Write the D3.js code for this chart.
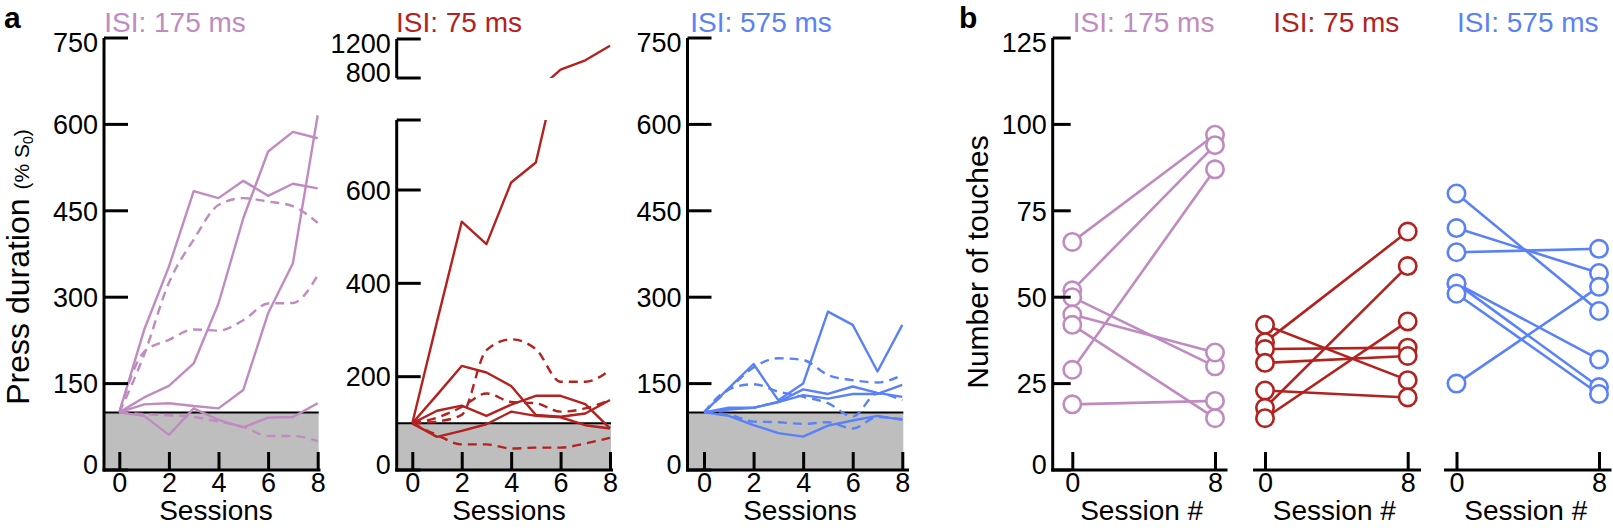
<!DOCTYPE html>
<html><head><meta charset="utf-8">
<script src="https://cdn.jsdelivr.net/npm/d3@7"></script>
<style>
html,body{margin:0;padding:0;background:#fff;}
svg{display:block;font-family:"Liberation Sans",Arial,Helvetica,sans-serif;}
</style></head><body>
<svg id="chart" width="1613" height="530"></svg>
<script>
// ---------------- DATA ----------------
const sessions = [0,1,2,3,4,5,6,7,8];
const groupNames = ["ISI: 175 ms","ISI: 75 ms","ISI: 575 ms"];
const groupColors = ["#c08bc0","#b3221e","#5a82f6"];

const press175Solid = [
  [100,243,353,484,472,502,476,497,489],
  [100,126,146,185,289,437,553,587,576],
  [100,114,116,111,107,139,272,359,616],
  [100,94,61,107,87,74,91,92,116]
];
const press175Dashed = [
  [100,200,325,400,460,472,466,458,429],
  [100,205,226,244,242,260,289,290,338],
  [100,97,95,92,84,75,59,59,50]
];
const press75Solid = [
  [100,318,532,484,616,659,887,982,1130],
  [100,161,223,209,180,118,114,121,150],
  [100,127,138,116,140,159,159,141,89],
  [100,71,84,98,125,116,113,96,89]
];
const press75Dashed = [
  [100,104,118,257,280,259,189,189,214],
  [100,112,135,164,146,143,125,132,150],
  [100,75,55,55,46,48,48,57,69]
];
const press575Solid = [
  [100,142,184,121,150,275,252,171,252],
  [100,108,108,118,140,132,145,134,127],
  [100,105,108,118,130,124,132,132,148],
  [100,94,78,64,58,77,86,94,87]
];
const press575Dashed = [
  [100,140,178,194,191,165,156,152,165],
  [100,140,149,136,127,116,93,133,121],
  [100,96,84,83,80,83,72,92,88]
];

const touchSessions = [0, 8];
const touches175S0 = [66,52,50,45,42,29,19];
const touches175S8 = [97,94,30,34,15,87,20];
const touches75S0 = [42,37,35,31,23,18,15];
const touches75S8 = [26,69,35.4,33,21,59,43];
const touches575S0 = [80,70,63,54,54,51,25];
const touches575S8 = [46,57,64,32,24,22,53];

const yTicks175 = [0,150,300,450,600,750];
const yTicks75Lower = [0,200,400,600];
const yTicks75Upper = [800,1200];
const yTicks575 = [0,150,300,450,600,750];
const yTicksTouches = [0,25,50,75,100,125];
const xTicksSessions = [0,2,4,6,8];
const xTicksTouches = [0,8];
const baselineValue = 100;

// ---------------- LAYOUT ----------------
const svg = d3.select("#chart");
const Y0 = 470, YTOP = 38;
const AXW = 3, LINEW = 2.4;
const tickFont = 27, labelFont = 28, titleFont = 28;

function yAxisLabels(g, ticks, yScale, axisX, topVal, botVal) {
  ticks.forEach(t => {
    let dy = 0;
    if (t === topVal) dy = 4;
    if (t === botVal) dy = -6;
    g.append("text").attr("x", axisX - 6).attr("y", yScale(t) + dy)
      .attr("dy", "0.36em").attr("text-anchor", "end")
      .attr("font-size", tickFont).attr("fill", "#000").text(t);
  });
}

function yTicksDraw(g, ticks, yScale, axisX, len) {
  g.selectAll(null).data(ticks).enter().append("line")
    .attr("x1", axisX).attr("x2", axisX + len)
    .attr("y1", d => yScale(d)).attr("y2", d => yScale(d))
    .attr("stroke", "#000").attr("stroke-width", AXW);
}

function xAxisDraw(g, ticks, xScale, x1, x2, tickLen) {
  g.append("line").attr("x1", x1).attr("x2", x2).attr("y1", Y0).attr("y2", Y0)
    .attr("stroke", "#000").attr("stroke-width", AXW);
  const ax = d3.axisBottom(xScale).tickValues(ticks).tickSizeInner(-tickLen).tickSizeOuter(0).tickPadding(3);
  const a = g.append("g").attr("transform", `translate(0,${Y0})`).call(ax);
  a.select(".domain").remove();
  a.selectAll(".tick line").attr("stroke", "#000").attr("stroke-width", AXW);
  a.selectAll(".tick text").attr("font-size", tickFont).attr("fill", "#000")
    .attr("dy", "0.69em")
    .attr("font-family", "Liberation Sans, Arial, sans-serif");
}

function title(x, i) {
  svg.append("text").attr("x", x).attr("y", 32).attr("text-anchor", "middle")
    .attr("font-size", titleFont).attr("fill", groupColors[i]).text(groupNames[i]);
}

function xLabel(text, x) {
  svg.append("text").attr("x", x).attr("y", 520).attr("text-anchor", "middle")
    .attr("font-size", labelFont).attr("fill", "#000").text(text);
}

// ---------- Panel a: press duration ----------
function pressPanel(cfg) {
  const g = svg.append("g");
  const x = d3.scaleLinear().domain([0, 8]).range([cfg.xs0, cfg.xs8]);
  const y = cfg.y;
  g.append("rect").attr("x", cfg.axisX).attr("y", y(baselineValue))
    .attr("width", cfg.xs8 + 1 - cfg.axisX).attr("height", y(0) - y(baselineValue))
    .attr("fill", "#bebebe");
  g.append("line").attr("x1", cfg.axisX).attr("x2", cfg.xs8 + 1)
    .attr("y1", y(baselineValue)).attr("y2", y(baselineValue))
    .attr("stroke", "#000").attr("stroke-width", 2);
  return { g, x };
}

function drawSeries(g, x, y, solid, dashed, color, clipId) {
  const lineS = d3.line().x((d, i) => x(sessions[i])).y(d => y(d));
  const lineD = d3.line().x((d, i) => x(sessions[i])).y(d => y(d)).curve(d3.curveMonotoneX);
  const gg = g.append("g");
  if (clipId) gg.attr("clip-path", `url(#${clipId})`);
  dashed.forEach(s => gg.append("path").attr("d", lineD(s)).attr("fill", "none")
    .attr("stroke", color).attr("stroke-width", LINEW).attr("stroke-dasharray", "9,6"));
  solid.forEach(s => gg.append("path").attr("d", lineS(s)).attr("fill", "none")
    .attr("stroke", color).attr("stroke-width", LINEW).attr("stroke-linejoin", "round"));
}

const defs = svg.append("defs");

// a1
{
  const axisX = 104;
  const y = d3.scaleLinear().domain([0, 750]).range([Y0, YTOP]);
  const { g, x } = pressPanel({ axisX, xs0: 119.3, xs8: 317.7, y });
  drawSeries(g, x, y, press175Solid, press175Dashed, groupColors[0]);
  g.append("line").attr("x1", axisX).attr("x2", axisX).attr("y1", YTOP).attr("y2", Y0 + 1.5)
    .attr("stroke", "#000").attr("stroke-width", AXW);
  yTicksDraw(g, yTicks175, y, axisX, 24);
  yAxisLabels(g, yTicks175, y, axisX, 750, 0);
  xAxisDraw(g, xTicksSessions, x, axisX - 1.5, 320.5, 18);
  title(175, 0);
  xLabel("Sessions", 216);
}

// a2 (broken axis)
{
  const axisX = 396.7;
  const yLow = d3.scaleLinear().domain([0, 750]).range([Y0, 120]);
  const yUp = d3.scaleLinear().domain([800, 1200]).range([78, 39]);
  const { g, x } = pressPanel({ axisX, xs0: 412.3, xs8: 610, y: yLow });
  defs.append("clipPath").attr("id", "clipLow").append("rect")
    .attr("x", 380).attr("y", 120).attr("width", 260).attr("height", 370);
  defs.append("clipPath").attr("id", "clipUp").append("rect")
    .attr("x", 380).attr("y", 0).attr("width", 260).attr("height", 78);
  drawSeries(g, x, yLow, press75Solid, press75Dashed, groupColors[1], "clipLow");
  drawSeries(g, x, yUp, [press75Solid[0]], [], groupColors[1], "clipUp");
  g.append("line").attr("x1", axisX).attr("x2", axisX).attr("y1", 120).attr("y2", Y0 + 1.5)
    .attr("stroke", "#000").attr("stroke-width", AXW);
  g.append("line").attr("x1", axisX).attr("x2", axisX).attr("y1", 39).attr("y2", 78)
    .attr("stroke", "#000").attr("stroke-width", AXW);
  yTicksDraw(g, yTicks75Lower.concat([750]), yLow, axisX, 24);
  yTicksDraw(g, yTicks75Upper, yUp, axisX, 24);
  yAxisLabels(g, yTicks75Lower, yLow, axisX, null, 0);
  yAxisLabels(g, yTicks75Upper, yUp, axisX, 1200, 800);
  xAxisDraw(g, xTicksSessions, x, axisX - 1.5, 613, 18);
  title(459, 1);
  xLabel("Sessions", 509);
}

// a3
{
  const axisX = 687.5;
  const y = d3.scaleLinear().domain([0, 750]).range([Y0, YTOP]);
  const { g, x } = pressPanel({ axisX, xs0: 704, xs8: 902.3, y });
  drawSeries(g, x, y, press575Solid, press575Dashed, groupColors[2]);
  g.append("line").attr("x1", axisX).attr("x2", axisX).attr("y1", YTOP).attr("y2", Y0 + 1.5)
    .attr("stroke", "#000").attr("stroke-width", AXW);
  yTicksDraw(g, yTicks575, y, axisX, 24);
  yAxisLabels(g, yTicks575, y, axisX, 750, 0);
  xAxisDraw(g, xTicksSessions, x, axisX - 1.5, 909, 18);
  title(761, 2);
  xLabel("Sessions", 800);
}

// y label panel a
{
  const t = svg.append("text").attr("transform", "translate(29,267) rotate(-90)")
    .attr("text-anchor", "middle").attr("fill", "#000");
  t.append("tspan").attr("font-size", 32).text("Press duration ");
  t.append("tspan").attr("font-size", 21).text("(% S");
  t.append("tspan").attr("font-size", 14).attr("dy", 4).text("0");
  t.append("tspan").attr("font-size", 21).attr("dy", -4).text(")");
}

// ---------- Panel b: touches ----------
const yT = d3.scaleLinear().domain([0, 125]).range([Y0, YTOP]);
function touchPanel(cfg, s0, s8, i) {
  const g = svg.append("g");
  const x = d3.scaleLinear().domain([0, 8]).range([cfg.xs0, cfg.xs8]);
  const pairs = s0.map((v, k) => [v, s8[k]]);
  g.selectAll(null).data(pairs).enter().append("line")
    .attr("x1", x(touchSessions[0])).attr("x2", x(touchSessions[1]))
    .attr("y1", d => yT(d[0])).attr("y2", d => yT(d[1]))
    .attr("stroke", groupColors[i]).attr("stroke-width", 2.6);
  const pts = [];
  pairs.forEach(p => { pts.push([touchSessions[0], p[0]]); pts.push([touchSessions[1], p[1]]); });
  g.selectAll(null).data(pts).enter().append("circle")
    .attr("cx", d => x(d[0])).attr("cy", d => yT(d[1])).attr("r", 8.7)
    .attr("fill", "#fff").attr("stroke", groupColors[i]).attr("stroke-width", 2.6);
  xAxisDraw(g, xTicksTouches, x, cfg.xStart, cfg.xEnd, 18);
  if (cfg.axisX) {
    g.append("line").attr("x1", cfg.axisX).attr("x2", cfg.axisX).attr("y1", YTOP).attr("y2", Y0 + 1.5)
      .attr("stroke", "#000").attr("stroke-width", AXW);
    yTicksDraw(g, yTicksTouches, yT, cfg.axisX, 18);
    yAxisLabels(g, yTicksTouches, yT, cfg.axisX, 125, 0);
  }
  title((cfg.xs0 + cfg.xs8) / 2, i);
  xLabel("Session #", (cfg.xs0 + cfg.xs8) / 2 - 2);
}

touchPanel({ axisX: 1052.7, xs0: 1072.3, xs8: 1215, xStart: 1051.2, xEnd: 1227.5 }, touches175S0, touches175S8, 0);
touchPanel({ xs0: 1265, xs8: 1407.7, xStart: 1253, xEnd: 1421 }, touches75S0, touches75S8, 1);
touchPanel({ xs0: 1456.5, xs8: 1599, xStart: 1444, xEnd: 1611.5 }, touches575S0, touches575S8, 2);

svg.append("text").attr("transform", "translate(988,262) rotate(-90)")
  .attr("text-anchor", "middle").attr("font-size", 30).attr("fill", "#000").text("Number of touches");

// panel letters
svg.append("text").attr("x", 4).attr("y", 28).attr("font-size", 30).attr("font-weight", "bold").text("a");
svg.append("text").attr("x", 959).attr("y", 28).attr("font-size", 30).attr("font-weight", "bold").text("b");
</script>
</body></html>
